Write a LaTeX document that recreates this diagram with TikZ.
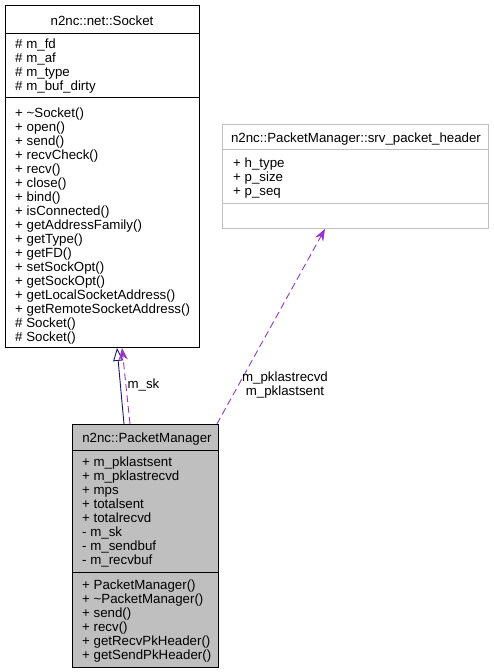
\documentclass[tikz,border=0pt]{standalone}
\usepackage{fontspec}
\setmainfont{Liberation Sans}
\usepackage{tikz}
\usetikzlibrary{arrows.meta, positioning}
\definecolor{edgeblue}{RGB}{25,25,112}
\definecolor{edgepurple}{RGB}{154,50,205}
\definecolor{curgray}{RGB}{191,191,191}
\definecolor{hdrframe}{RGB}{191,191,191}
\newcommand{\classfont}{\fontsize{13.3}{14}\selectfont}
\tikzset{
  classbox/.style={rectangle, draw=black, fill=white, anchor=north west,
    inner sep=0pt, line width=0.9pt},
  curbox/.style={classbox, fill=curgray},
  hdrbox/.style={classbox, draw=hdrframe},
  classtitle/.style={anchor=base, inner sep=0pt, font=\classfont},
  members/.style={anchor=north west, inner sep=0pt, align=left, font=\classfont},
  edgelabel/.style={align=center, inner sep=0pt, font=\classfont},
  sepline/.style={line width=0.9pt, color=black},
  inherit/.style={-{Triangle[open, length=13pt, width=10pt]}, color=edgeblue, line width=0.9pt},
  usage/.style={-{Stealth[length=12pt, width=9pt]}, color=edgepurple, line width=0.9pt,
    dash pattern=on 7pt off 4pt}
}
\begin{document}
\begin{tikzpicture}[x=1pt, y=-1pt]
  \useasboundingbox (0,0) rectangle (493,672);

  % Base class
  \node[classbox, minimum width=194pt, minimum height=342pt] (sock) at (5,5) {};
  \draw[sepline] ([yshift=-28]sock.north west) -- ([yshift=-28]sock.north east);
  \draw[sepline] ([yshift=-92]sock.north west) -- ([yshift=-92]sock.north east);
  \node[classtitle] (socktitle) at (102,25) {n2nc::net::Socket};
  \node[members] (sockattr) at (15,39) {\# m\_fd\\\# m\_af\\\# m\_type\\\# m\_buf\_dirty};
  \node[members] (sockops) at (15,107.5) {+ \textasciitilde Socket()\\+ open()\\+ send()\\+ recvCheck()\\+ recv()\\+ close()\\+ bind()\\+ isConnected()\\+ getAddressFamily()\\+ getType()\\+ getFD()\\+ setSockOpt()\\+ getSockOpt()\\+ getLocalSocketAddress()\\+ getRemoteSocketAddress()\\\# Socket()\\\# Socket()};

  % Packet header struct
  \node[hdrbox, minimum width=266pt, minimum height=104pt] (hdr) at (222,124) {};
  \draw[sepline, color=hdrframe] ([yshift=-25]hdr.north west) -- ([yshift=-25]hdr.north east);
  \draw[sepline, color=hdrframe] ([yshift=-79]hdr.north west) -- ([yshift=-79]hdr.north east);
  \node[classtitle] (hdrtitle) at (356,142.7) {n2nc::PacketManager::srv\_packet\_header};
  \node[members] (hdrattr) at (233,157.5) {+ h\_type\\+ p\_size\\+ p\_seq};

  % Documented class
  \node[curbox, minimum width=146pt, minimum height=243pt] (pm) at (72,424) {};
  \draw[sepline] ([yshift=-26]pm.north west) -- ([yshift=-26]pm.north east);
  \draw[sepline] ([yshift=-148]pm.north west) -- ([yshift=-148]pm.north east);
  \node[classtitle] (pmtitle) at (147,442) {n2nc::PacketManager};
  \node[members] (pmattr) at (82,456.5) {+ m\_pklastsent\\+ m\_pklastrecvd\\+ mps\\+ totalsent\\+ totalrecvd\\- m\_sk\\- m\_sendbuf\\- m\_recvbuf};
  \node[members] (pmops) at (82,579.5) {+ PacketManager()\\+ \textasciitilde PacketManager()\\+ send()\\+ recv()\\+ getRecvPkHeader()\\+ getSendPkHeader()};

  % Relations
  \draw[inherit] ([xshift=52]pm.north west) -- ([xshift=112]sock.south west);
  \draw[usage] ([xshift=58]pm.north west) -- ([xshift=117]sock.south west);
  \draw[usage] ([xshift=-2]pm.north east) -- ([xshift=103]hdr.south west);

  % Edge labels
  \node[edgelabel] (sklabel) at (143.5,385) {m\_sk};
  \node[edgelabel] (pklabel) at (285,385) {m\_pklastrecvd\\m\_pklastsent};
\end{tikzpicture}
\end{document}
